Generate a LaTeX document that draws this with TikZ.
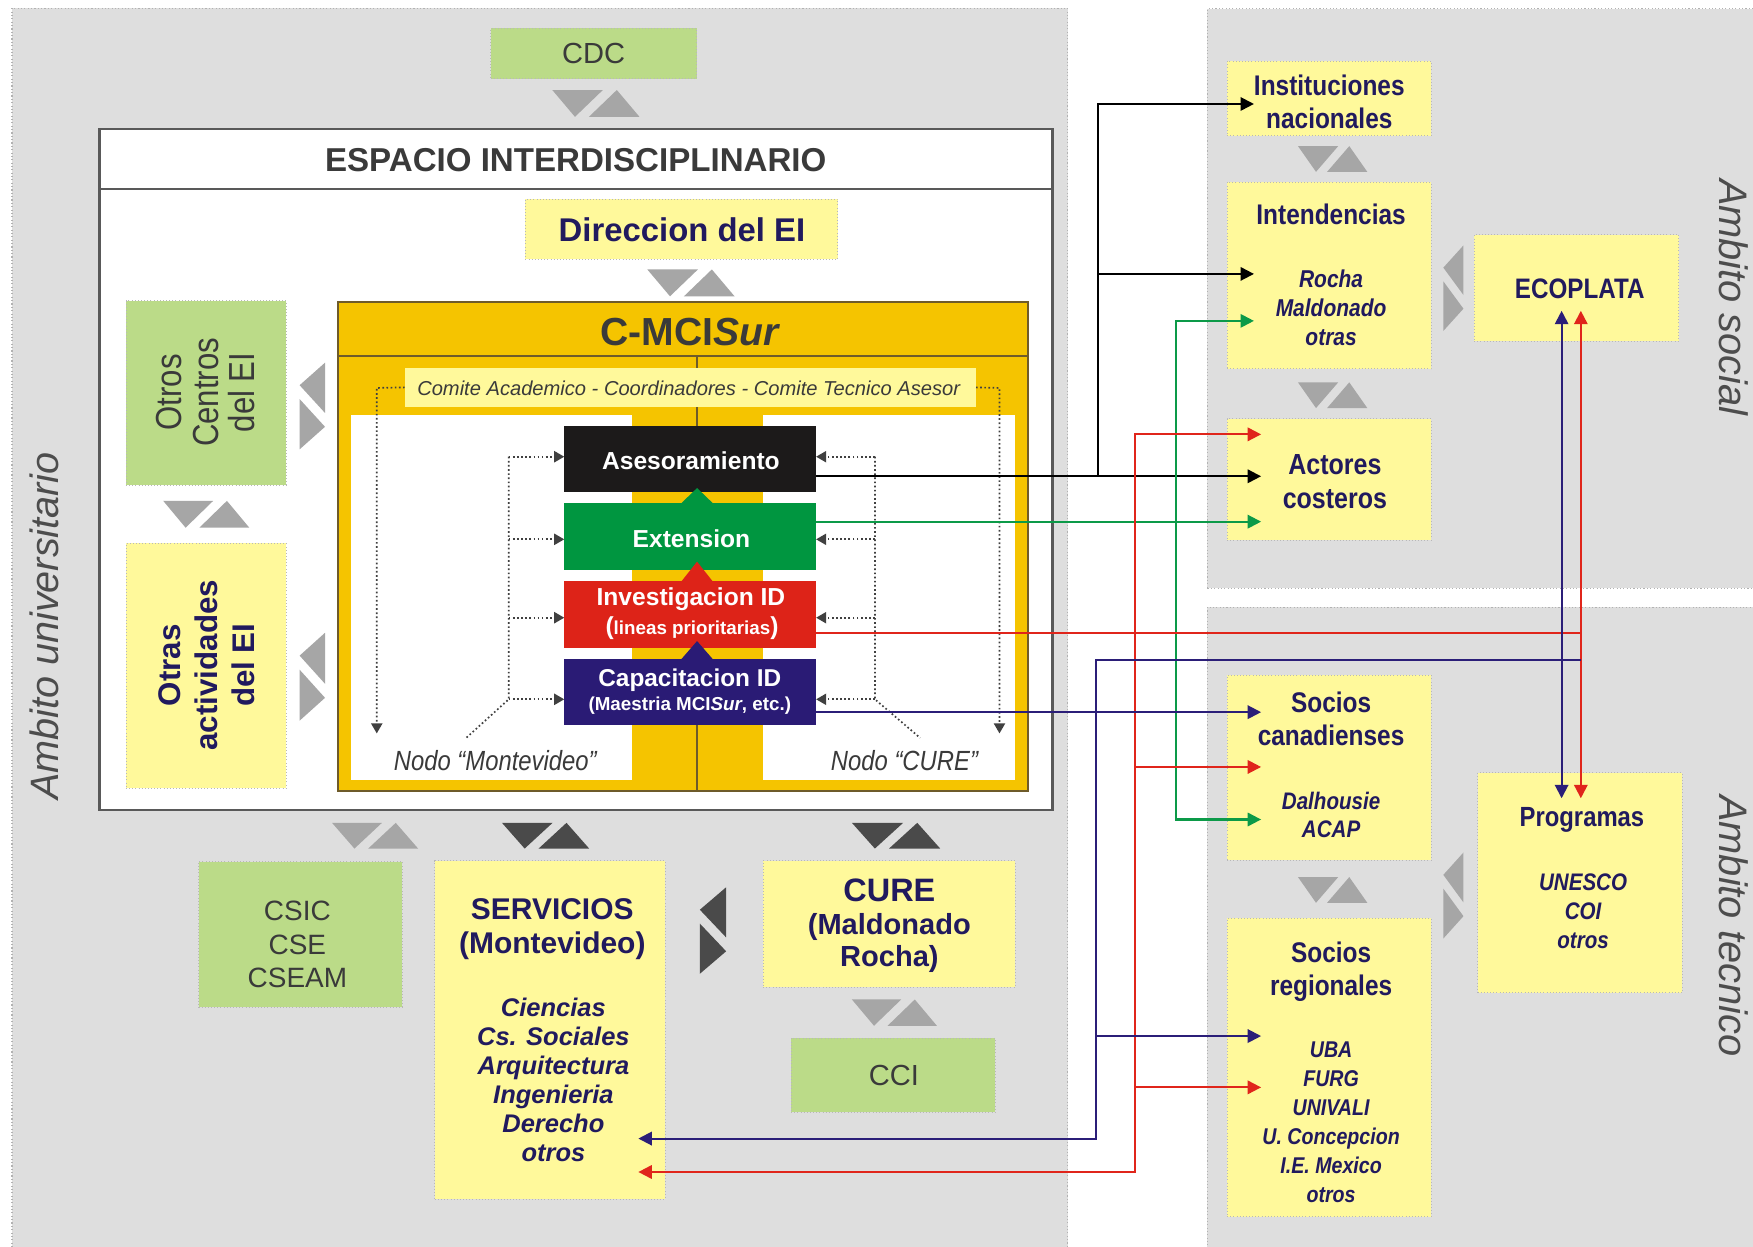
\documentclass[tikz,border=0pt]{standalone}
\usepackage{fontspec}
\setmainfont{Liberation Sans}
\newfontfamily\condfont{Liberation Sans}[FakeStretch=0.86]
\usetikzlibrary{arrows.meta,fit}
\definecolor{panelg}{HTML}{DEDEDE}
\definecolor{yel}{HTML}{FFF99B}
\definecolor{grn}{HTML}{BBDB88}
\definecolor{gold}{HTML}{F5C400}
\definecolor{navytxt}{HTML}{211A5E}
\definecolor{tgray}{HTML}{3A3A3A}
\definecolor{agray}{HTML}{4D4D4D}
\definecolor{boxblack}{HTML}{1C1A1A}
\definecolor{boxgreen}{HTML}{009640}
\definecolor{boxred}{HTML}{DD2318}
\definecolor{boxnavy}{HTML}{2A1B75}
\definecolor{trilight}{HTML}{A6A6A6}
\definecolor{tridark}{HTML}{4A4A4A}
\definecolor{lnavy}{HTML}{2B1E78}
\definecolor{lred}{HTML}{E0251B}
\definecolor{lgreen}{HTML}{0C9A48}
\definecolor{goldline}{HTML}{6E5B2A}
\newcommand\fsz[2]{\fontsize{#1}{#2}\selectfont}
% horizontal double triangle: x0,y0 (top-left), W, H, colour
\newcommand\hpair[5]{%
  \fill[#5] (#1,#2) -- ({#1+0.58*#3},#2) -- ({#1+0.26*#3},{#2+#4}) -- cycle;
  \fill[#5] ({#1+0.42*#3},{#2+#4}) -- ({#1+#3},{#2+#4}) -- ({#1+0.74*#3},#2) -- cycle;}
% vertical double triangle: x0,y0 (top-left), W, H, colour
\newcommand\vpair[5]{%
  \fill[#5] ({#1+#3},#2) -- ({#1+#3},{#2+0.58*#4}) -- (#1,{#2+0.26*#4}) -- cycle;
  \fill[#5] (#1,{#2+0.42*#4}) -- (#1,{#2+#4}) -- ({#1+#3},{#2+0.74*#4}) -- cycle;}
\begin{document}
\begin{tikzpicture}[x=0.5pt,y=-0.5pt,
  every node/.style={inner sep=0pt,outer sep=0pt},
  panel/.style={fill=panelg,draw=black!30,densely dotted,line width=0.5pt},
  ybox/.style={fill=yel,draw=black!28,densely dotted,line width=0.4pt},
  gbox/.style={fill=grn,draw=black!28,densely dotted,line width=0.4pt},
  ntxt/.style={text=navytxt,align=center},
  gtxt/.style={text=tgray,align=center},
  wtxt/.style={text=white,align=center},
  arrtip/.style={-{Triangle[length=6pt,width=6pt]}},
  arrboth/.style={{Triangle[length=6pt,width=6pt]}-{Triangle[length=6pt,width=6pt]}},
  cblack/.style={draw=black,line width=0.9pt},
  cgreen/.style={draw=lgreen,line width=0.9pt},
  cred/.style={draw=lred,line width=0.9pt},
  cnavy/.style={draw=lnavy,line width=0.9pt},
  dotln/.style={draw=black!75,line width=0.75pt,dash pattern=on 0.75pt off 1.1pt},
  dtip/.style={-{Triangle[length=4.5pt,width=5pt]}}
]
\useasboundingbox (0,0) rectangle (1568,1115);
% ---------- panels
\node[panel,fit={(10.7,7.5) (955,1125)}] (pU) {};
\node[panel,fit={(1080,7.8) (1590,526)}] (pS) {};
\node[panel,fit={(1080,543) (1590,1125)}] (pT) {};
% ---------- top
\node[gbox,fit={(439,25.3) (623,70.4)}] (cdc) {};
\hpair{494}{80.5}{78}{24}{trilight}
\node[fill=white,draw=black!65,line width=1pt,fit={(89,115.7) (941.5,724.5)}] (esp) {};
\draw[draw=black!65,line width=1pt] (esp.west |- 0,169) -- (esp.east |- 0,169);
\node[ybox,fit={(470,178) (749.5,231.7)}] (dir) {};
\hpair{579}{241}{78}{24}{trilight}
% ---------- C-MCISur
\node[fill=gold,draw=goldline,line width=1.1pt,fit={(302.5,270) (919.5,707.5)}] (cmci) {};
\draw[draw=goldline,line width=1.1pt] (cmci.west |- 0,318.5) -- (cmci.east |- 0,318.5);
\draw[draw=goldline,line width=1pt] (623.5,318.5) -- (623.5,707.5);
\node[fill=white,fit={(314,371) (565,698)}] (nmv) {};
\node[fill=white,fit={(682.5,371) (908,698)}] (ncu) {};
\draw[draw=goldline,line width=1pt] (623.5,364) -- (623.5,381);
\node[ybox,draw=none,fit={(362,329) (873,364)}] (comite) {};
\node[fill=boxblack,fit={(504.7,381) (730,440)}] (ases) {};
\node[fill=boxgreen,fit={(504.7,450) (730,510)}] (ext) {};
\node[fill=boxred,fit={(504.7,520) (730,579.6)}] (inv) {};
\node[fill=boxnavy,fit={(504.7,589.5) (730,648.5)}] (cap) {};
\fill[boxgreen] (609.5,450) -- (623.5,436.5) -- (637.5,450) -- cycle;
\fill[boxred] (609.5,520) -- (623.5,502.4) -- (637.5,520) -- cycle;
\fill[boxnavy] (609.5,589.5) -- (623.5,573.4) -- (637.5,589.5) -- cycle;
% dotted arrows
\coordinate (dL0) at (337,347); \coordinate (dL1) at (337,656);
\coordinate (dR0) at (894,347); \coordinate (dR1) at (894,656);
\draw[dotln,dtip] (comite.west) -- (dL0) -- (dL1);
\draw[dotln,dtip] (comite.east) -- (dR0) -- (dR1);
\coordinate (iL0) at (455,408.5); \coordinate (iL1) at (455,482.4);
\coordinate (iL2) at (455,552.5); \coordinate (iL3) at (455,625.5);
\coordinate (mvA) at (417,660);
\coordinate (iR0) at (782.6,408.5); \coordinate (iR1) at (782.6,482.4);
\coordinate (iR2) at (782.6,552.5); \coordinate (iR3) at (782.6,625.5);
\coordinate (cuA) at (823,660);
\draw[dotln] (iL0) -- (iL3) -- (mvA);
\draw[dotln] (iR0) -- (iR3) -- (cuA);
\foreach \k in {0,1,2,3}{
  \draw[dotln,dtip] (iL\k) -- (ases.west |- iL\k);
  \draw[dotln,dtip] (iR\k) -- (ases.east |- iR\k);}
% ---------- left column
\node[gbox,fit={(112.7,269) (255.8,433.8)}] (otrosC) {};
\node[ybox,fit={(112.7,485.8) (255.8,705)}] (otrasA) {};
\vpair{268}{324.4}{22.7}{77.5}{trilight}
\vpair{268}{566}{22.7}{78.6}{trilight}
\hpair{146}{448}{77}{24}{trilight}
% ---------- bottom
\hpair{297}{736}{77}{23}{trilight}
\hpair{449}{736}{78}{23}{tridark}
\hpair{762}{736}{79}{23}{tridark}
\node[gbox,fit={(177.6,770.7) (359.6,901)}] (csic) {};
\node[ybox,fit={(389,770) (595,1072.5)}] (serv) {};
\node[ybox,fit={(682.6,770) (908,883)}] (cure) {};
\vpair{626}{793.6}{23.5}{77.4}{tridark}
\hpair{762}{894}{76}{23.5}{trilight}
\node[gbox,fit={(707.7,928.6) (890,995)}] (cci) {};
% ---------- right column
\node[ybox,fit={(1097.6,54.8) (1280,121.3)}] (inst) {};
\hpair{1161}{130.7}{62}{23}{trilight}
\node[ybox,fit={(1097.6,163) (1280,330)}] (intend) {};
\hpair{1161}{342}{62}{23}{trilight}
\node[ybox,fit={(1097.6,374.6) (1280,483)}] (actores) {};
\node[ybox,fit={(1318.6,209.8) (1501.6,305)}] (ecop) {};
\vpair{1291}{219.5}{18}{76.5}{trilight}
\node[ybox,fit={(1097.6,604) (1280,769.6)}] (socCan) {};
\hpair{1161}{784.5}{62}{23}{trilight}
\node[ybox,fit={(1097.6,821.5) (1280,1088.4)}] (socReg) {};
\node[ybox,fit={(1321.7,691) (1504.5,888)}] (prog) {};
\vpair{1291}{762.5}{18}{77}{trilight}
% ---------- texts
\node[gtxt,font=\fsz{13}{15}] (tcdc) at (531,48) {CDC};
\node[gtxt,font=\fsz{14.8}{17}\bfseries] (tesp) at (515,143) {ESPACIO INTERDISCIPLINARIO};
\node[ntxt,font=\fsz{14.7}{17}\bfseries] (tdir) at (610,205.5) {Direccion del EI};
\node[gtxt,font=\fsz{17.5}{20}\bfseries] (tcmci) at (617.5,297) {C-MCI\textit{Sur}};
\node[gtxt,font=\fsz{9}{11}\itshape] (tcom) at (616,347) {Comite Academico - Coordinadores - Comite Tecnico Asesor};
\node[wtxt,font=\fsz{11}{13}\bfseries] (tases) at (618,412) {Asesoramiento};
\node[wtxt,font=\fsz{11}{13}\bfseries] (text) at (618.5,482) {Extension};
\node[wtxt,font=\fsz{11}{13}\bfseries] (tinv1) at (618,535.7) {Investigacion ID};
\node[wtxt,font=\fsz{8.4}{10}\bfseries] (tinv2) at (619,562) {{\fsz{11}{13}(}lineas prioritarias{\fsz{11}{13})}};
\node[wtxt,font=\fsz{10.9}{13}\bfseries] (tcap1) at (617,608) {Capacitacion ID};
\node[wtxt,font=\fsz{8.4}{10}\bfseries] (tcap2) at (617,631) {(Maestria MCI\textit{Sur}, etc.)};
\node[gtxt,font=\condfont\fsz{12.4}{14}\itshape] (tnmv) at (443,680) {Nodo “Montevideo”};
\node[gtxt,font=\condfont\fsz{12.4}{14}\itshape] (tncu) at (809,680) {Nodo “CURE”};
\node[gtxt,rotate=90,font=\condfont\fsz{16.2}{16.4}] (totrosC) at (184,351) {Otros\\Centros\\del EI};
\node[ntxt,rotate=90,font=\fsz{14}{16.5}\bfseries] (totrasA) at (185,595) {Otras\\actividades\\del EI};
\node[text=agray,rotate=90,font=\fsz{17.7}{19}\itshape] (tamU) at (39.5,560) {Ambito universitario};
\node[text=agray,rotate=-90,font=\fsz{17.8}{20}\itshape] (tamS) at (1551,266) {Ambito social};
\node[text=agray,rotate=-90,font=\fsz{17.8}{20}\itshape] (tamT) at (1551,828) {Ambito tecnico};
\node[gtxt,font=\fsz{12.5}{15}] (tcsic) at (266,845) {CSIC\\CSE\\CSEAM};
\node[ntxt,font=\fsz{13.4}{15}\bfseries] (tserv1) at (494,831) {SERVICIOS\\(Montevideo)};
\node[ntxt,font=\fsz{11.4}{13}\bfseries\itshape] (tserv2) at (495,966) {Ciencias\\Cs. Sociales\\Arquitectura\\Ingenieria\\Derecho\\otros};
\node[ntxt,font=\fsz{14.5}{17}\bfseries] (tcure1) at (795.5,796) {CURE};
\node[ntxt,font=\fsz{13}{14.5}\bfseries] (tcure2) at (795.5,843.5) {(Maldonado\\Rocha)};
\node[gtxt,font=\fsz{13}{15}] (tcci) at (799.5,962) {CCI};
\node[ntxt,font=\condfont\fsz{12.7}{15}\bfseries] (tinst) at (1189,91) {Instituciones\\nacionales};
\node[ntxt,font=\condfont\fsz{12.7}{13}\bfseries] (tint1) at (1190.6,192) {Intendencias};
\node[ntxt,font=\condfont\fsz{10.9}{13}\bfseries\itshape] (tint2) at (1190.6,275) {Rocha\\Maldonado\\otras};
\node[ntxt,font=\condfont\fsz{13}{15}\bfseries] (tact) at (1194,431) {Actores\\costeros};
\node[ntxt,font=\condfont\fsz{12.6}{13}\bfseries] (tecop) at (1413,258.5) {ECOPLATA};
\node[ntxt,font=\condfont\fsz{12.7}{15}\bfseries] (tscan1) at (1190.6,643) {Socios\\canadienses};
\node[ntxt,font=\condfont\fsz{10.7}{12.8}\bfseries\itshape] (tscan2) at (1190.6,729) {Dalhousie\\ACAP};
\node[ntxt,font=\condfont\fsz{12.7}{15}\bfseries] (tsreg1) at (1190.6,869) {Socios\\regionales};
\node[ntxt,font=\condfont\fsz{10.2}{13}\bfseries\itshape] (tsreg2) at (1190.6,1004) {UBA\\FURG\\UNIVALI\\U. Concepcion\\I.E. Mexico\\otros};
\node[ntxt,font=\condfont\fsz{12.4}{13}\bfseries] (tprog1) at (1415,733) {Programas};
\node[ntxt,font=\condfont\fsz{10.7}{12.8}\bfseries\itshape] (tprog2) at (1416,815) {UNESCO\\COI\\otros};
% ---------- connectors
% black (Asesoramiento)
\coordinate (kB0) at (982,426); \coordinate (kB1) at (982,93); \coordinate (kB2) at (982,245);
\coordinate (tB0) at (1128,426); \coordinate (tB1) at (1121.6,93); \coordinate (tB2) at (1121.6,245);
\draw[cblack,arrtip] (ases.east |- kB0) -- (tB0);
\draw[cblack,arrtip] (kB0) -- (kB1) -- (tB1);
\draw[cblack,arrtip] (kB2) -- (tB2);
% green (Extension)
\coordinate (g1) at (1051.5,287); \coordinate (g2) at (1051.5,733);
\coordinate (gI) at (1121.6,287); \coordinate (gA) at (1128,466.6); \coordinate (gC) at (1128,733);
\draw[cgreen,arrtip] (ext.east |- gA) -- (gA);
\draw[cgreen,arrboth] (gI) -- (g1) -- (g2) -- (gC);
% red (Investigacion)
\coordinate (r1) at (1015,388.5); \coordinate (r4) at (1015,1048.3);
\coordinate (tr1) at (1128,388.5); \coordinate (tr2) at (1128,686);
\coordinate (tr3) at (1128,972.6); \coordinate (tr4) at (571,1048.3);
\draw[cred,arrboth] (tr1) -- (r1) -- (r4) -- (tr4);
\draw[cred,arrtip] (r1 |- tr2) -- (tr2);
\draw[cred,arrtip] (r1 |- tr3) -- (tr3);
\coordinate (rE) at (1414,566); \coordinate (rT) at (1414,278); \coordinate (rB) at (1414,714);
\draw[cred] (inv.east |- rE) -- (rE);
\draw[cred,arrboth] (rT) -- (rB);
% navy (Capacitacion)
\coordinate (n0) at (980,590.5); \coordinate (n1) at (1414,590.5); \coordinate (n3) at (980,1018.4);
\coordinate (tn3) at (571,1018.4); \coordinate (tn2) at (1128,926.7); \coordinate (tnC) at (1128,637);
\draw[cnavy,arrtip] (n1) -- (n0) -- (n3) -- (tn3);
\draw[cnavy,arrtip] (n0 |- tn2) -- (tn2);
\draw[cnavy,arrtip] (cap.east |- tnC) -- (tnC);
\coordinate (nT) at (1396.8,278); \coordinate (nB) at (1396.8,714);
\draw[cnavy,arrboth] (nT) -- (nB);
\end{tikzpicture}
\end{document}
